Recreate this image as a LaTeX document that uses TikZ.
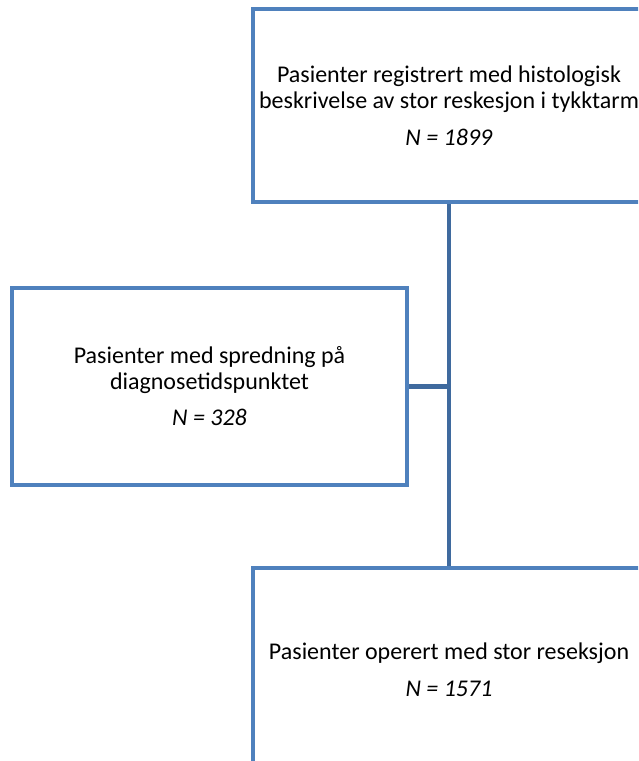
\documentclass[tikz,border=0pt]{standalone}
\usepackage{fontspec}
\setmainfont{Carlito}
\definecolor{boxblue}{HTML}{4F81BD}
\definecolor{linkblue}{HTML}{3F6A9E}
\begin{document}
\begin{tikzpicture}[x=1pt,y=-1pt,
  flowbox/.style={draw=boxblue,line width=4pt,fill=white,rectangle,inner sep=0pt,align=center,font=\fontsize{24}{26}\selectfont},
  link/.style={draw=linkblue,line width=4.5pt}]
\useasboundingbox (0,0) rectangle (638,761);
\clip (0,0) rectangle (638,761);
\node[flowbox,minimum width=392pt,minimum height=193pt] (top) at (449,105.5)
  {Pasienter registrert med histologisk\\beskrivelse av stor reskesjon i tykktarm\\[11pt]\textit{N = 1899}};
\node[flowbox,minimum width=395pt,minimum height=197pt] (left) at (209.5,386.5)
  {Pasienter med spredning på\\diagnosetidspunktet\\[10pt]\textit{N = 328}};
\node[flowbox,minimum width=392pt,minimum height=204pt] (bot) at (449,670)
  {Pasienter operert med stor reseksjon\\[11pt]\textit{N = 1571}};
\draw[link] (top.south) -- (bot.north);
\draw[link] (left.east) -- (left.east -| top.south);
\end{tikzpicture}
\end{document}
